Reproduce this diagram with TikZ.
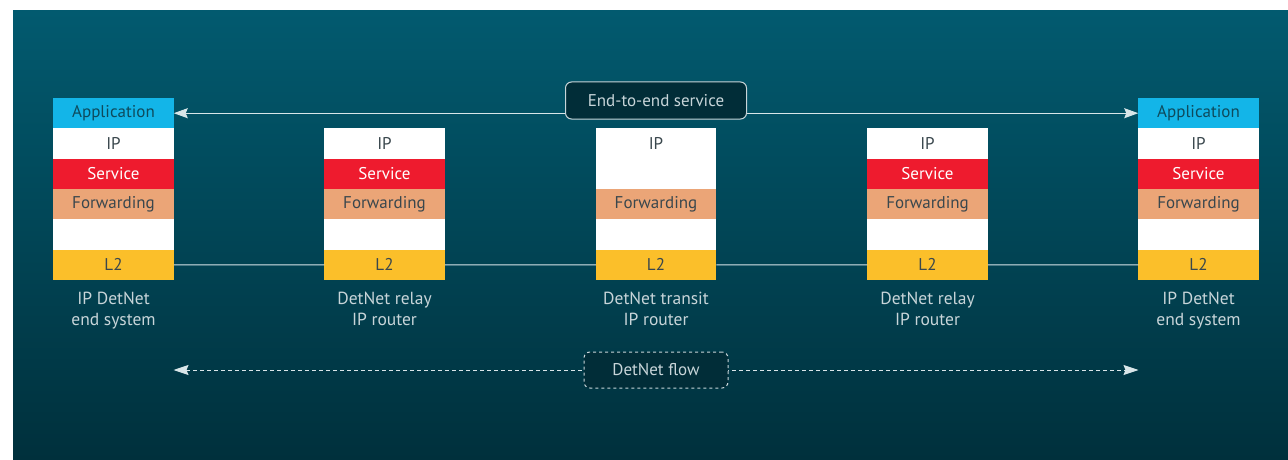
\documentclass[tikz,border=0pt]{standalone}
\usepackage{fontspec}
\setmainfont{PT Sans}
\usetikzlibrary{arrows.meta}
\usetikzlibrary{positioning}

\definecolor{bgtop}{HTML}{025A6F}
\definecolor{bgbot}{HTML}{00303C}
\definecolor{boxfill}{HTML}{012D38}
\definecolor{appblue}{HTML}{13B5E8}
\definecolor{svcred}{HTML}{EE1B2E}
\definecolor{fwdorange}{HTML}{EBA577}
\definecolor{ltwoyellow}{HTML}{FBBF2A}
\definecolor{darktext}{HTML}{3A474D}
\definecolor{apptext}{HTML}{0E4A5C}
\definecolor{lighttext}{HTML}{C8D5D9}

\tikzset{
    layer/.style={rectangle,minimum width=120.5pt,minimum height=30.33pt,
        inner sep=0pt,outer sep=0pt,font=\fontsize{17}{20}\selectfont,text=darktext},
    app/.style={layer,fill=appblue,text=apptext},
    ipl/.style={layer,fill=white},
    svc/.style={layer,fill=svcred,text=white},
    fwd/.style={layer,fill=fwdorange},
    gap/.style={layer,fill=white},
    ltwo/.style={layer,fill=ltwoyellow},
    caption/.style={align=center,text=lighttext,inner sep=0pt,
        font=\fontsize{17.5}{20.5}\selectfont},
    link/.style={draw=white!85!bgtop,line width=1pt},
    tag/.style={rounded corners=6pt,fill=boxfill,draw=lighttext,line width=1pt,
        text=lighttext,font=\fontsize{17}{20}\selectfont,
        minimum width=181pt,minimum height=37pt,inner sep=0pt},
}

\begin{document}
\begin{tikzpicture}[x=1pt,y=-1pt]
        \useasboundingbox (0,0) rectangle (1288,460);
        \shade[top color=bgtop,bottom color=bgbot] (13,11) rectangle (1288,460);

        % end system, left
        \node[app]                   (app1)  at (113.5,113.2) {Application};
        \node[ipl,below=0pt of app1] (ip1)   {IP};
        \node[svc,below=0pt of ip1]  (svc1)  {Service};
        \node[fwd,below=0pt of svc1] (fwd1)  {Forwarding};
        \node[gap,below=0pt of fwd1] (gap1)  {};
        \node[ltwo,below=0pt of gap1](ltwo1) {L2};

        % relay router
        \node[ipl]                   (ip2)   at (384.5,143.5) {IP};
        \node[svc,below=0pt of ip2]  (svc2)  {Service};
        \node[fwd,below=0pt of svc2] (fwd2)  {Forwarding};
        \node[gap,below=0pt of fwd2] (gap2)  {};
        \node[ltwo,below=0pt of gap2](ltwo2) {L2};

        % transit router
        \node[ipl]                   (ip3)   at (656,143.5) {IP};
        \node[gap,below=0pt of ip3]  (svc3)  {};
        \node[fwd,below=0pt of svc3] (fwd3)  {Forwarding};
        \node[gap,below=0pt of fwd3] (gap3)  {};
        \node[ltwo,below=0pt of gap3](ltwo3) {L2};

        % relay router
        \node[ipl]                   (ip4)   at (927.5,143.5) {IP};
        \node[svc,below=0pt of ip4]  (svc4)  {Service};
        \node[fwd,below=0pt of svc4] (fwd4)  {Forwarding};
        \node[gap,below=0pt of fwd4] (gap4)  {};
        \node[ltwo,below=0pt of gap4](ltwo4) {L2};

        % end system, right
        \node[app]                   (app5)  at (1198.5,113.2) {Application};
        \node[ipl,below=0pt of app5] (ip5)   {IP};
        \node[svc,below=0pt of ip5]  (svc5)  {Service};
        \node[fwd,below=0pt of svc5] (fwd5)  {Forwarding};
        \node[gap,below=0pt of fwd5] (gap5)  {};
        \node[ltwo,below=0pt of gap5](ltwo5) {L2};

        \node[caption,below=12pt of ltwo1] (cap1) {IP DetNet\\end system};
        \node[caption,below=12pt of ltwo2] (cap2) {DetNet relay\\IP router};
        \node[caption,below=12pt of ltwo3] (cap3) {DetNet transit\\IP router};
        \node[caption,below=12pt of ltwo4] (cap4) {DetNet relay\\IP router};
        \node[caption,below=12pt of ltwo5] (cap5) {IP DetNet\\end system};

        % links
        \draw[link] (ltwo1) -- (ltwo2) -- (ltwo3) -- (ltwo4) -- (ltwo5);
        \draw[link,{Stealth[length=14pt,width=10pt,inset=2pt]}-{Stealth[length=14pt,width=10pt,inset=2pt]}]
            (app1) -- (app5);
        \node[tag] (service) at (656,100.5) {End-to-end service};

        \coordinate (flowL) at (173.5,370);
        \coordinate (flowR) at (1138.5,370);
        \draw[link,dash pattern=on 4pt off 3pt,
            {Stealth[length=15pt,width=10pt,inset=2pt]}-{Stealth[length=15pt,width=10pt,inset=2pt]}]
            (flowL) -- (flowR);
        \node[tag,dash pattern=on 3pt off 3pt,minimum width=144pt,minimum height=36pt]
            (flow) at (656,370) {DetNet flow};
    \end{tikzpicture}
\end{document}
